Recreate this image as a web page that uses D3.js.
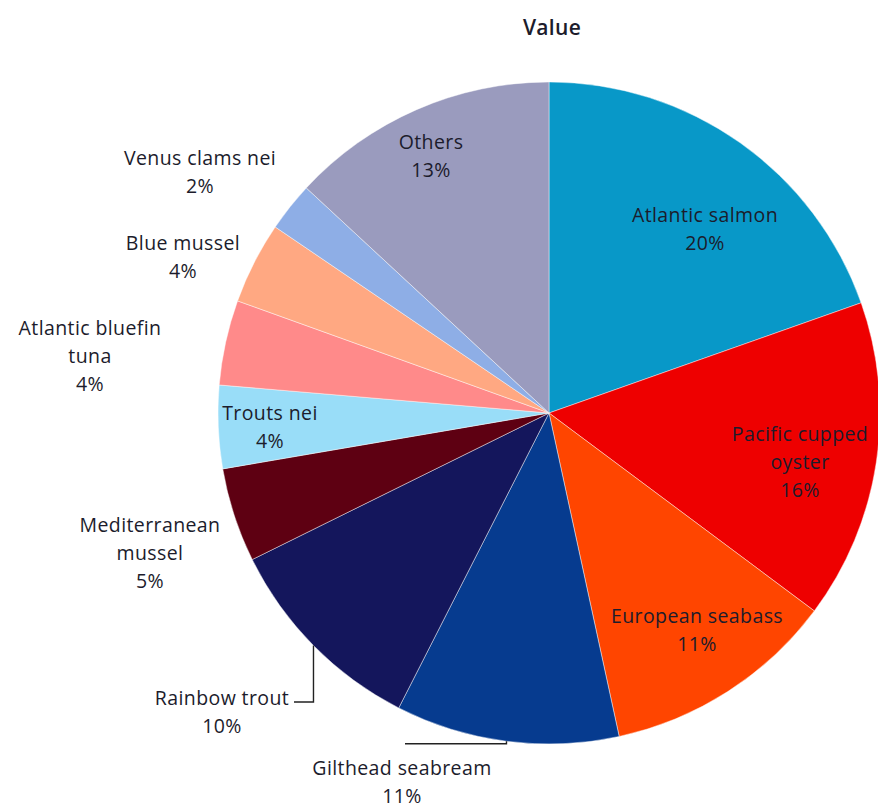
<!DOCTYPE html>
<html><head><meta charset="utf-8">
<script src="https://cdn.jsdelivr.net/npm/d3@7"></script>
<style>
html,body{margin:0;padding:0;background:#fff;}
svg text{font-family:"Open Sans","Noto Sans",sans-serif;fill:#1c1c2c;}
</style></head>
<body>
<svg id="chart" width="878" height="807"></svg>
<script>
// ---- data ----
const categories = ["Atlantic salmon","Pacific cupped oyster","European seabass","Gilthead seabream","Rainbow trout","Mediterranean mussel","Trouts nei","Atlantic bluefin tuna","Blue mussel","Venus clams nei","Others"];
const values = [19.6, 15.6, 11.4, 10.9, 10.2, 4.6, 4.05, 4.15, 4.0, 2.4, 13.1];
const labelLines = [["Atlantic salmon"],["Pacific cupped","oyster"],["European seabass"],["Gilthead seabream"],["Rainbow trout"],["Mediterranean","mussel"],["Trouts nei"],["Atlantic bluefin","tuna"],["Blue mussel"],["Venus clams nei"],["Others"]];
const title = "Value";

// ---- style / layout ----
const colors = ["#0898c8","#ee0000","#ff4500","#063b8f","#14165c","#5e0012","#99ddf8","#ff8a8a","#ffa882","#8eaee6","#9a9bbe"];
// label block centre offsets from pie centre (px)
const labelOffsets = [[156,-184],[251,49],[148,217],[-147,369],[-327,299],[-399,140],[-279,14],[-459,-57],[-366,-156],[-349,-241],[-118,-257]];
const cx = 549, cy = 413, R = 331, lineH = 28;

const svg = d3.select("#chart");
svg.append("text").attr("x", 552).attr("y", 35).attr("text-anchor","middle")
  .style("font-size","21px").style("font-weight","600").style("letter-spacing","0.3px").text(title);

const pie = d3.pie().sort(null).value(d => d)(values);
const arc = d3.arc().innerRadius(0).outerRadius(R);
const g = svg.append("g").attr("transform", `translate(${cx},${cy})`);

g.selectAll("path").data(pie).join("path")
  .attr("d", arc).attr("fill", (d,i) => colors[i])
  .attr("stroke", "rgba(255,255,255,0.55)").attr("stroke-width", 0.8);

// leader lines (Rainbow trout, Gilthead seabream)
function edgePoint(i, frac) {
  const a = pie[i].startAngle + (pie[i].endAngle - pie[i].startAngle) * frac;
  return [R * Math.sin(a), -R * Math.cos(a)];
}
const rt = edgePoint(4, 0.5);
g.append("path").attr("fill","none").attr("stroke","#222").attr("stroke-width",1.4)
  .attr("d", d3.line()([[labelOffsets[4][0]+72, labelOffsets[4][1]-10],[rt[0], labelOffsets[4][1]-10],[rt[0], rt[1]]]));
const gs = edgePoint(3, 0.5);
g.append("path").attr("fill","none").attr("stroke","#222").attr("stroke-width",1.4)
  .attr("d", d3.line()([[labelOffsets[3][0]+3, gs[1]+2.5],[gs[0], gs[1]+2.5],[gs[0], gs[1]]]));

const total = d3.sum(values);
const lg = g.selectAll("g.lab").data(pie).join("g").attr("class","lab");
lg.each(function(d,i){
  const lines = labelLines[i].concat([Math.round(d.value/total*100) + "%"]);
  const n = lines.length;
  const [ox, oy] = labelOffsets[i];
  const t = d3.select(this).append("text").attr("text-anchor","middle")
    .style("font-size","19.5px").style("letter-spacing","0.4px");
  lines.forEach((s, k) => {
    t.append("tspan").attr("x", ox).attr("y", oy + (k - (n-1)/2) * lineH + 7).text(s);
  });
});
</script>
</body></html>
